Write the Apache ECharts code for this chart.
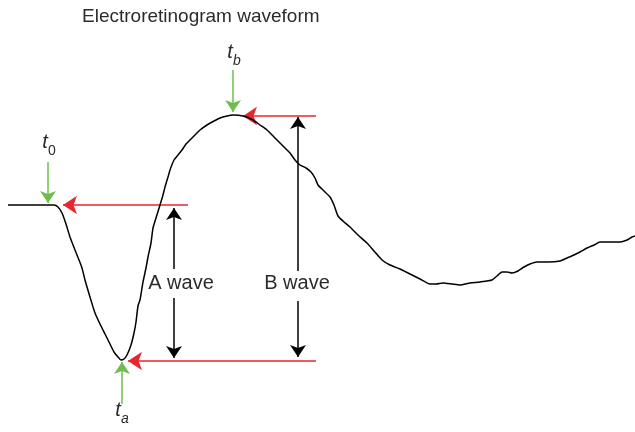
<!DOCTYPE html>
<html>
<head>
<meta charset="utf-8">
<script src="https://cdn.jsdelivr.net/npm/echarts@6/dist/echarts.min.js"></script>
<style>
  html, body { margin: 0; padding: 0; background: #fff; }
  #chart { width: 635px; height: 432px; }
</style>
</head>
<body>
<div id="chart"></div>
<script>
// 波形数据：时间（任意单位）与幅值（基线为 0）
const waveTime = [8, 54, 58, 62, 66, 70, 75, 79, 82, 85, 90, 95, 100, 105, 110, 114, 118, 121, 124, 127,
  131, 134, 136, 138, 140, 143, 146, 148, 151, 153, 156, 160, 163, 165, 168, 170, 174, 178, 182, 186,
  190, 195, 200, 207, 214, 220, 227, 233, 243, 253, 260, 267, 274, 280, 285, 290, 295, 300, 306, 311,
  315, 318, 324, 330, 334, 338, 344, 350, 358, 367, 374, 382, 390, 400, 410, 420, 430, 436, 443, 452,
  460, 470, 480, 492, 497, 502, 507, 512, 518, 524, 530, 537, 548, 560, 567, 574, 580, 587, 594, 600,
  610, 620, 627, 632, 635]
const waveAmp = [0, 0, -2, -8, -19, -32, -45, -55, -63, -75, -92, -108, -119, -129, -139, -147, -152, -155, -154, -150,
  -140, -128, -117, -101, -95, -77, -63, -52, -38, -23, -13, 0, 10, 18, 28, 35, 45, 50, 55, 61,
  65, 70, 75, 80, 84, 87, 89, 90, 89, 85, 80, 75, 68, 62, 57, 52, 45, 40, 37, 33,
  27, 20, 14, 8, 0, -11, -17, -22, -30, -38, -46, -55, -60, -64, -69, -74, -79, -79, -78, -79,
  -80, -78, -77, -75, -71, -67, -67, -68, -66, -62, -59, -57, -57, -56, -53, -50, -47, -43, -40, -37,
  -37, -37, -35, -32, -31]

// 标注箭头 [起点时间, 起点幅值, 终点时间, 终点幅值]，箭头画在终点
const greenArrows = [[48, 43, 48, 2], [122, -199, 122, -157], [233, 135, 233, 93]]
const redArrows = [[188, 0, 63, 0], [316, -156, 128, -156], [316, 89, 243, 89]]
// 黑色双向箭头在文字处断开，分成上下两段
const blackArrows = [[174, -64, 174, -3], [174, -93, 174, -153], [298, -66, 298, 88], [298, -96, 298, -152]]

// 文字标注 [时间, 幅值, 文本]
const markerLabels = [[49, 60, '{t|t}{s|0}'], [122, -208, '{t|t}{si|a}'], [234, 150, '{t|t}{si|b}']]
const waveLabels = [[181, -78, 'A wave'], [297, -78, 'B wave']]

const chart = echarts.init(document.getElementById('chart'))

function arrowData(list) {
  return list.map(a => ({ coords: [[a[0], a[1]], [a[2], a[3]]] }))
}

const textColor = '#2b2b2b'

chart.setOption({
  animation: false,
  title: {
    text: 'Electroretinogram waveform',
    left: 77,
    top: 2,
    textStyle: { fontFamily: 'Liberation Sans', fontSize: 19, fontWeight: 'normal', color: textColor }
  },
  grid: { left: 0, right: 0, top: 0, bottom: 0 },
  xAxis: { type: 'value', min: 0, max: 635, show: false },
  yAxis: { type: 'value', min: -227, max: 205, show: false },
  series: [
    {
      type: 'line',
      data: waveTime.map((t, i) => [t, waveAmp[i]]),
      symbol: 'none',
      smooth: 0.2,
      lineStyle: { color: '#000', width: 1.5 }
    },
    {
      type: 'lines',
      coordinateSystem: 'cartesian2d',
      symbol: ['none', 'arrow'],
      symbolSize: [9, 12],
      lineStyle: { color: '#6cbf4d', width: 1.5, opacity: 1 },
      data: arrowData(greenArrows)
    },
    {
      type: 'lines',
      coordinateSystem: 'cartesian2d',
      symbol: ['none', 'arrow'],
      symbolSize: [10, 14],
      lineStyle: { color: '#e8262d', width: 1.5, opacity: 1 },
      data: arrowData(redArrows)
    },
    {
      type: 'lines',
      coordinateSystem: 'cartesian2d',
      symbol: ['none', 'arrow'],
      symbolSize: [9, 12],
      lineStyle: { color: '#000', width: 1.5, opacity: 1 },
      data: arrowData(blackArrows)
    },
    {
      type: 'scatter',
      symbolSize: 0,
      itemStyle: { opacity: 1 },
      data: waveLabels,
      label: {
        show: true,
        position: 'inside',
        formatter: p => p.data[2],
        fontFamily: 'Liberation Sans',
        fontSize: 20,
        color: textColor
      }
    },
    {
      type: 'scatter',
      symbolSize: 0,
      itemStyle: { opacity: 1 },
      data: markerLabels,
      label: {
        show: true,
        position: 'inside',
        formatter: p => p.data[2],
        color: textColor,
        rich: {
          t: { fontFamily: 'Liberation Sans', fontStyle: 'italic', fontSize: 20, color: textColor, lineHeight: 26, verticalAlign: 'top' },
          s: { fontFamily: 'Liberation Sans', fontSize: 14, color: textColor, lineHeight: 26, verticalAlign: 'bottom', padding: [8, 0, 0, 0] },
          si: { fontFamily: 'Liberation Sans', fontStyle: 'italic', fontSize: 14, color: textColor, lineHeight: 26, verticalAlign: 'bottom', padding: [8, 0, 0, 0] }
        }
      }
    }
  ]
})
</script>
</body>
</html>
